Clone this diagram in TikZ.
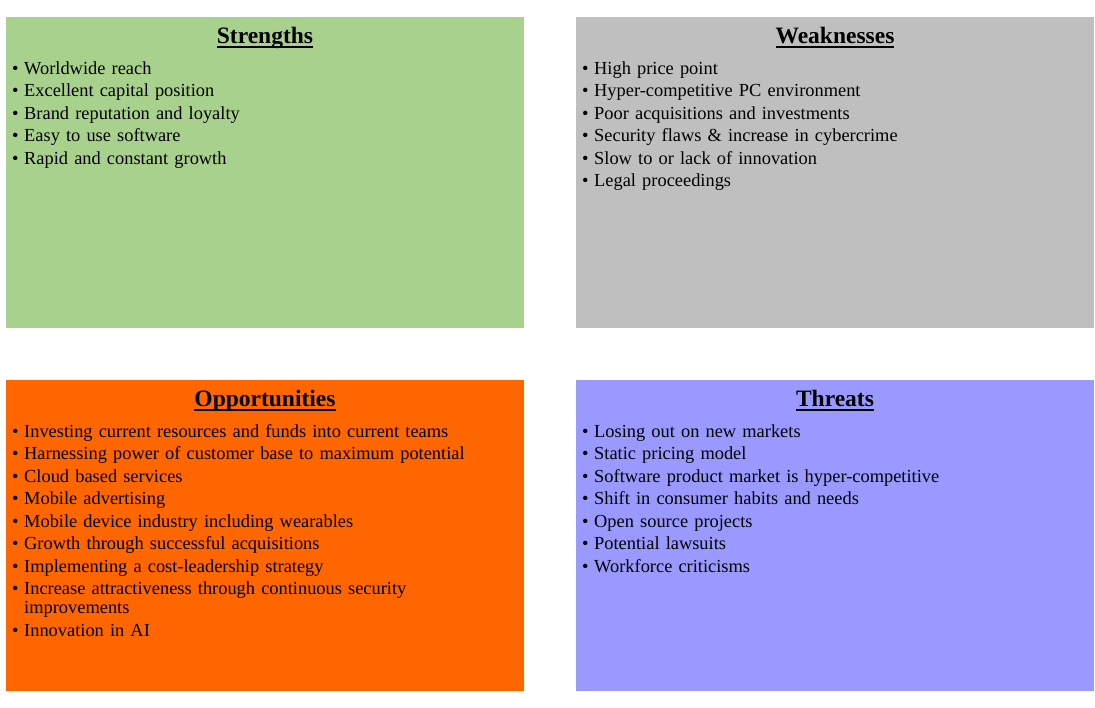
\documentclass[tikz,border=0pt]{standalone}
\usepackage{fontspec}
\setmainfont{Liberation Serif}
\usetikzlibrary{positioning}
\definecolor{strgreen}{HTML}{A9D18E}
\definecolor{weakgrey}{HTML}{BFBFBF}
\definecolor{opporange}{HTML}{FF6600}
\definecolor{threatblue}{HTML}{9999FF}
\newcommand\swotpoint[1]{\par\noindent\hangindent=12pt\hangafter=1\makebox[12pt][l]{\strut\textbullet}#1}
\newcommand\swothead[1]{\setbox0=\hbox{#1}\rlap{\rule[-4.6pt]{\wd0}{1.8pt}}\box0}

\tikzset{
  quad/.style={minimum width=518pt, minimum height=311pt, inner sep=0pt, outer sep=0pt},
  heading/.style={anchor=base, inner sep=0pt, font=\fontsize{23.5}{24}\selectfont\bfseries},
  points/.style={anchor=north west, inner sep=0pt, text width=500pt, align=left,
    font=\fontsize{18.4}{19}\selectfont, execute at begin node={\setlength{\parskip}{3.5pt}}},
}

\begin{document}
\begin{tikzpicture}[x=1pt,y=1pt]
\useasboundingbox (0,0) rectangle (1095,-707);

% the four quadrants
\node[quad, anchor=north west, fill=strgreen] (str) at (6,-17) {};
\node[quad, fill=weakgrey, right=52pt of str] (weak) {};
\node[quad, fill=opporange, below=52pt of str] (opp) {};
\node[quad, fill=threatblue, below=52pt of weak] (thr) {};

% headings
\node[heading] (strhead)  at ([yshift=-26.5pt]str.north)  {\swothead{Strengths}};
\node[heading] (weakhead) at ([yshift=-26.5pt]weak.north) {\swothead{Weaknesses}};
\node[heading] (opphead)  at ([yshift=-26.5pt]opp.north)  {\swothead{Opportunities}};
\node[heading] (thrhead)  at ([yshift=-26.5pt]thr.north)  {\swothead{Threats}};

% bullet lists
\node[points] (strlist) at ([xshift=6pt,yshift=-34.5pt]str.north west) {%
  \swotpoint{Worldwide reach}
  \swotpoint{Excellent capital position}
  \swotpoint{Brand reputation and loyalty}
  \swotpoint{Easy to use software}
  \swotpoint{Rapid and constant growth}};
\node[points] (weaklist) at ([xshift=6pt,yshift=-34.5pt]weak.north west) {%
  \swotpoint{High price point}
  \swotpoint{Hyper-competitive PC environment}
  \swotpoint{Poor acquisitions and investments}
  \swotpoint{Security flaws \& increase in cybercrime}
  \swotpoint{Slow to or lack of innovation}
  \swotpoint{Legal proceedings}};
\node[points] (opplist) at ([xshift=6pt,yshift=-34.5pt]opp.north west) {%
  \swotpoint{Investing current resources and funds into current teams}
  \swotpoint{Harnessing power of customer base to maximum potential}
  \swotpoint{Cloud based services}
  \swotpoint{Mobile advertising}
  \swotpoint{Mobile device industry including wearables}
  \swotpoint{Growth through successful acquisitions}
  \swotpoint{Implementing a cost-leadership strategy}
  \swotpoint{Increase attractiveness through continuous security\newline improvements}
  \swotpoint{Innovation in AI}};
\node[points] (thrlist) at ([xshift=6pt,yshift=-34.5pt]thr.north west) {%
  \swotpoint{Losing out on new markets}
  \swotpoint{Static pricing model}
  \swotpoint{Software product market is hyper-competitive}
  \swotpoint{Shift in consumer habits and needs}
  \swotpoint{Open source projects}
  \swotpoint{Potential lawsuits}
  \swotpoint{Workforce criticisms}};
\end{tikzpicture}
\end{document}
